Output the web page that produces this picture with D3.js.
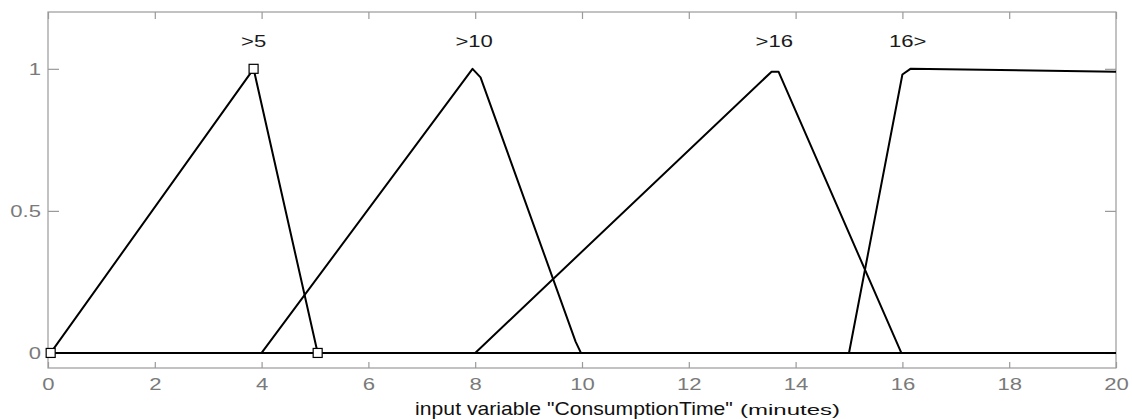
<!DOCTYPE html>
<html>
<head>
<meta charset="utf-8">
<script src="https://cdn.jsdelivr.net/npm/d3@7"></script>
<style>
  body { margin: 0; background: #fff; }
  text { font-family: "Liberation Sans", Arial, sans-serif; }
</style>
</head>
<body>
<script>
// membership functions of "ConsumptionTime"
const mfNames = [">5", ">10", ">16", "16>"];
const mfPeaks = [3.85, 7.98, 13.6, 16.1];
const mf1 = [[0.05, 0], [3.85, 1], [5.05, 0]];
const mf2 = [[4, 0], [7.95, 1], [8.1, 0.97], [9.88, 0.04], [9.98, 0]];
const mf3 = [[8, 0], [13.55, 0.99], [13.68, 0.99], [15.98, 0]];
const mf4 = [[15, 0], [16.0, 0.98], [16.15, 1], [20, 0.99]];
const mfData = [mf1, mf2, mf3, mf4];
const markers = mf1;

const xTicks = [0, 2, 4, 6, 8, 10, 12, 14, 16, 18, 20];
const yTicks = [0, 0.5, 1];

const w = 1132;
const h = 419;
const padLeft = 48, padRight = 1116, padTop = 12, padBottom = 368;
const sx = 1.38; // the picture's text is stretched sideways

const svg = d3.select("body")
  .append("svg")
  .attr("width", w)
  .attr("height", h);

const x_scale = d3.scaleLinear()
  .domain([0, 20])
  .range([padLeft, padRight]);

const y_scale = d3.scaleLinear()
  .domain([-0.053, 1.2])
  .range([padBottom, padTop]);

const grey = "#9a9a9a";
const labelGrey = "#7a7a7a";

// frame
svg.append("rect")
  .attr("x", padLeft)
  .attr("y", padTop)
  .attr("width", padRight - padLeft)
  .attr("height", padBottom - padTop)
  .attr("fill", "none")
  .attr("stroke", grey)
  .attr("stroke-width", 1.2);

// inward ticks, MATLAB style
const x_axis = d3.axisBottom(x_scale).tickValues(xTicks).tickSizeInner(-6).tickSizeOuter(0);
const x_top = d3.axisTop(x_scale).tickValues(xTicks).tickSizeInner(-7).tickSizeOuter(0).tickFormat("");
const y_axis = d3.axisLeft(y_scale).tickValues(yTicks).tickSizeInner(-11).tickSizeOuter(0)
  .tickFormat(d => d === 0.5 ? "0.5" : d3.format("d")(d));
const y_right = d3.axisRight(y_scale).tickValues(yTicks).tickSizeInner(-11).tickSizeOuter(0).tickFormat("");

function styleAxis(g) {
  g.select(".domain").remove();
  g.selectAll(".tick line").attr("stroke", grey).attr("stroke-width", 1.2);
  g.selectAll(".tick text")
    .attr("fill", labelGrey)
    .attr("font-size", 16)
    .attr("transform", `scale(${sx},1)`);
}

svg.append("g").attr("transform", `translate(0,${padBottom})`).call(x_axis).call(styleAxis)
  .selectAll(".tick text").attr("y", 22.5).attr("dy", 0);
svg.append("g").attr("transform", `translate(0,${padTop})`).call(x_top).call(styleAxis);
svg.append("g").attr("transform", `translate(${padLeft},0)`).call(y_axis).call(styleAxis)
  .selectAll(".tick text").attr("x", -7 / sx).attr("dy", "0.36em");
svg.append("g").attr("transform", `translate(${padRight},0)`).call(y_right).call(styleAxis);

// zero line
svg.append("line")
  .attr("x1", x_scale(0))
  .attr("x2", x_scale(20))
  .attr("y1", y_scale(0))
  .attr("y2", y_scale(0))
  .attr("stroke", "#000")
  .attr("stroke-width", 2);

const line = d3.line()
  .x(d => x_scale(d[0]))
  .y(d => y_scale(d[1]));

svg.selectAll("path.mf")
  .data(mfData)
  .enter()
  .append("path")
  .attr("class", "mf")
  .attr("d", line)
  .attr("fill", "none")
  .attr("stroke", "#000")
  .attr("stroke-width", 2)
  .attr("stroke-linejoin", "round");

// vertex markers of the selected function
svg.selectAll("rect.marker")
  .data(markers)
  .enter()
  .append("rect")
  .attr("class", "marker")
  .attr("x", d => x_scale(d[0]) - 4.5)
  .attr("y", d => y_scale(d[1]) - 4.5)
  .attr("width", 9)
  .attr("height", 9)
  .attr("fill", "#fff")
  .attr("stroke", "#000")
  .attr("stroke-width", 1.2);

// function names
svg.selectAll("text.mfname")
  .data(mfNames)
  .enter()
  .append("text")
  .attr("class", "mfname")
  .attr("transform", (d, i) => `translate(${x_scale(mfPeaks[i])},47) scale(${sx},1)`)
  .attr("text-anchor", "middle")
  .attr("font-size", 16)
  .attr("fill", "#1a1a1a")
  .text(d => d);

// axis title
const titleMain = svg.append("text")
  .attr("text-anchor", "middle")
  .attr("font-size", 18)
  .attr("fill", "#111")
  .text('input variable "ConsumptionTime"');
const mainLen = titleMain.node().getComputedTextLength();
const mainSx = 318 / mainLen;
titleMain.attr("transform", `translate(${x_scale(10) - 8},415) scale(${mainSx},1)`);

const titleUnit = svg.append("text")
  .attr("text-anchor", "start")
  .attr("font-size", 15)
  .attr("fill", "#111")
  .text("(minutes)");
const unitLen = titleUnit.node().getComputedTextLength();
titleUnit.attr("transform", `translate(${x_scale(10) - 8 + 159 + 7},415) scale(${100 / unitLen},1)`);
</script>
</body>
</html>
